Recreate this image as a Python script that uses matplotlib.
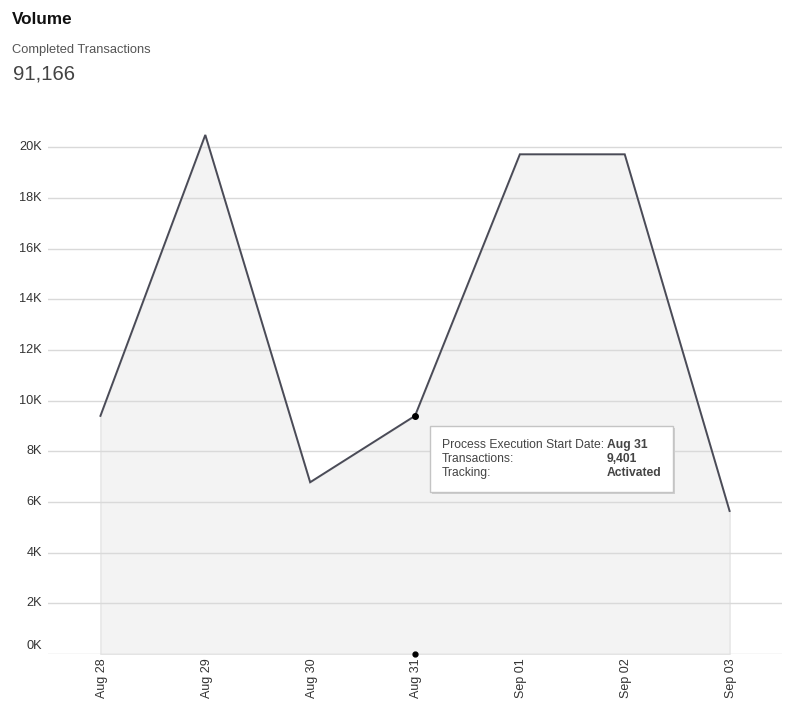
import matplotlib
matplotlib.use("Agg")
import matplotlib.pyplot as plt
from matplotlib.patches import Rectangle
import matplotlib.transforms as mtransforms

dates = ["Aug 28", "Aug 29", "Aug 30", "Aug 31", "Sep 01", "Sep 02", "Sep 03"]
transactions = [9400, 20490, 6780, 9401, 19725, 19725, 5645]
ytick_values = [0, 2000, 4000, 6000, 8000, 10000, 12000, 14000, 16000, 18000, 20000]
ytick_labels = ["0K", "2K", "4K", "6K", "8K", "10K", "12K", "14K", "16K", "18K", "20K"]
total_label = "91,166"
highlight_index = 3
tooltip_keys = ["Process Execution Start Date:", "Transactions:", "Tracking:"]
tooltip_vals = ["Aug 31", "9,401", "Activated"]

plt.rcParams['font.family'] = ['Liberation Sans', 'DejaVu Sans']

W, H = 802, 723
fig = plt.figure(figsize=(W / 100, H / 100), dpi=100)

def px(x, y):
    return x / W, 1 - y / H

ax_left, ax_right, ax_bottom, ax_top = 48, 782, 654, 122
ax = fig.add_axes([ax_left / W, 1 - ax_bottom / H, (ax_right - ax_left) / W, (ax_bottom - ax_top) / H])
ax.set_xlim(-0.5, len(dates) - 0.5)
ax.set_ylim(0, 21000)

xs = list(range(len(dates)))
ax.fill_between(xs, transactions, 0, facecolor="#f3f3f3", edgecolor="#e4e4e4", linewidth=1, zorder=1)
for v in ytick_values:
    ax.axhline(v, color="#d9d9d9", linewidth=1, zorder=2)
ax.plot(xs, transactions, color="#4a4b57", linewidth=1.4, zorder=3, solid_joinstyle="miter")
ax.plot([highlight_index], [transactions[highlight_index]], 'o', color="black", markersize=4, zorder=4)
ax.plot([highlight_index], [0], 'o', color="black", markersize=3.5, zorder=4, clip_on=False)

for s in ax.spines.values():
    s.set_visible(False)
ax.set_yticks([])
ax.set_xticks(xs)
ax.set_xticklabels(dates, rotation=90, fontsize=9, color="#333333", va="top", ha="center")
ax.tick_params(axis="x", length=0, pad=3)
xoff = mtransforms.ScaledTranslation(1.5 / 100, 0, fig.dpi_scale_trans)
for lab in ax.get_xticklabels():
    lab.set_transform(lab.get_transform() + xoff)

ytrans = mtransforms.blended_transform_factory(fig.transFigure, ax.transData)
for v, lab in zip(ytick_values, ytick_labels):
    off = mtransforms.ScaledTranslation(0, 8 / 100 if v == 0 else 0, fig.dpi_scale_trans)
    ax.text(42 / W, v, lab, transform=ytrans + off, ha="right", va="center",
            fontsize=9.2, color="#333333")

# Header texts
fig.text(*px(12, 19), "Volume", fontsize=12.3, fontweight="bold", color="#111111", va="center", ha="left")
fig.text(*px(12, 50), "Completed Transactions", fontsize=9.3, color="#555555", va="center", ha="left")
fig.text(*px(13, 74), total_label, fontsize=14.7, color="#444444", va="center", ha="left")

# Tooltip
bx0, by0, bx1, by1 = 430, 426, 673, 492
shadow = Rectangle(px(bx0 + 2, by1 + 2), (bx1 - bx0) / W, (by1 - by0) / H,
                   transform=fig.transFigure, facecolor="#cfcfcf", edgecolor="none", zorder=5)
box = Rectangle(px(bx0, by1), (bx1 - bx0) / W, (by1 - by0) / H,
                transform=fig.transFigure, facecolor="white", edgecolor="#c4c4c4", linewidth=1, zorder=6)
fig.add_artist(shadow)
fig.add_artist(box)
for i, (k, v) in enumerate(zip(tooltip_keys, tooltip_vals)):
    y = 445 + i * 14
    fig.text(*px(442, y), k, fontsize=8.7, color="#444444", va="center", ha="left", zorder=7)
    fig.text(*px(607, y), v, fontsize=8.7, color="#444444", fontweight="bold", va="center", ha="left", zorder=7)

fig.savefig("out.png", dpi=100)
